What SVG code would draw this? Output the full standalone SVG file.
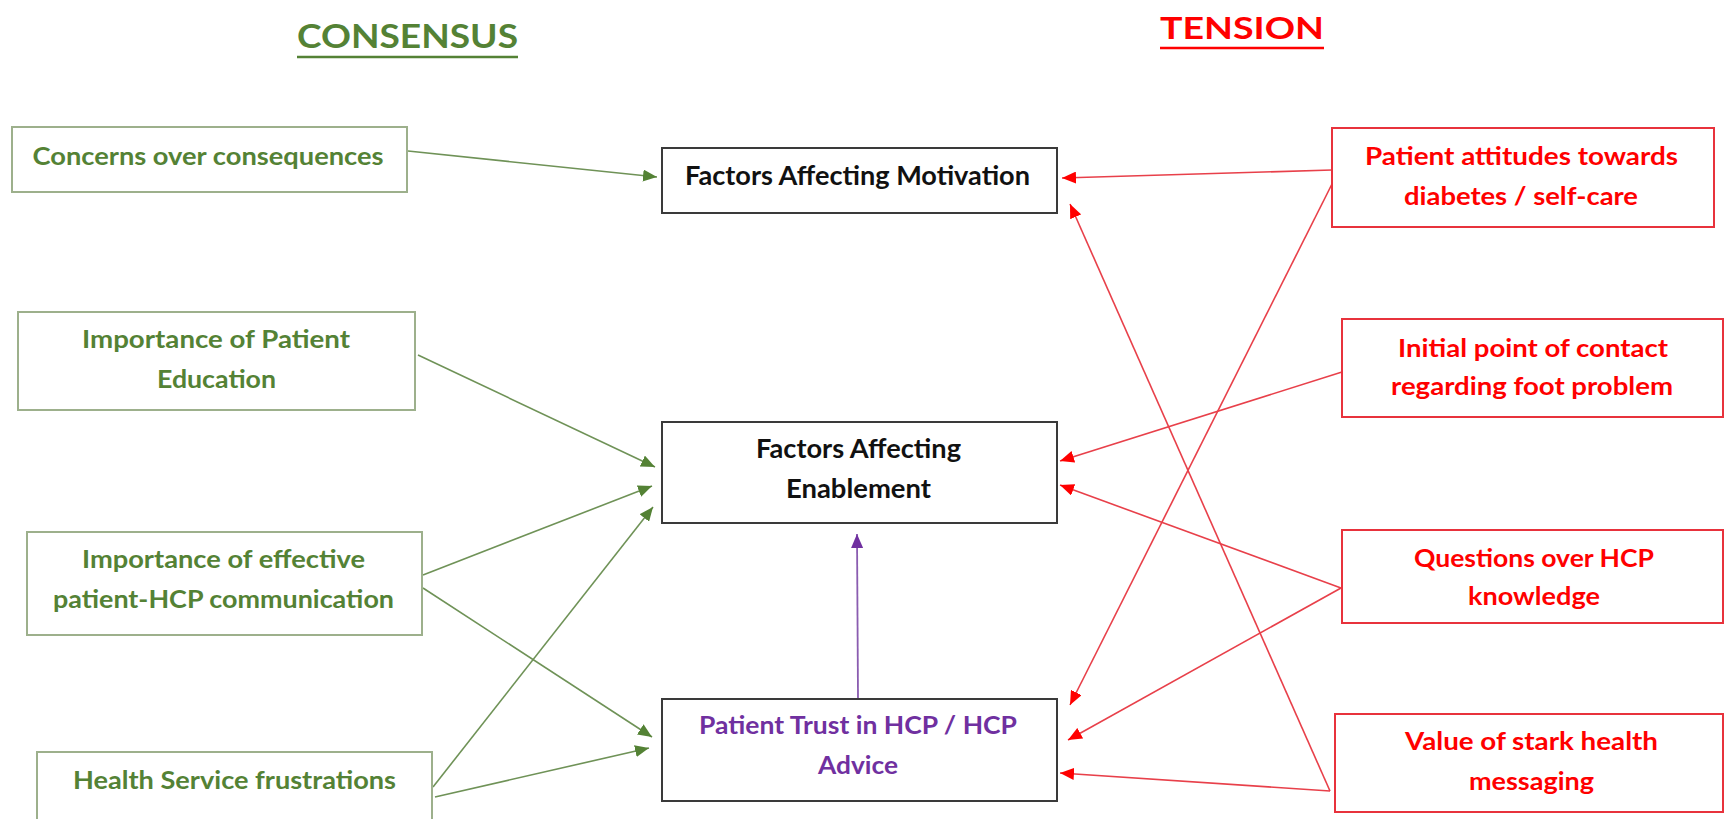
<svg xmlns="http://www.w3.org/2000/svg" width="1726" height="819" viewBox="0 0 1726 819">
<style>
text{font-family:"Lato","Liberation Sans",sans-serif;font-weight:bold;text-anchor:middle}
.g{fill:#548235;font-size:24px}
.r{fill:#FF0000;font-size:24px}
.k{fill:#111111;font-size:26px}
.p{fill:#7030A0;font-size:25px}
.gb{fill:#ffffff;stroke:#9DB08C;stroke-width:2}
.rb{fill:#ffffff;stroke:#E8323C;stroke-width:2}
.kb{fill:#ffffff;stroke:#3a3a3a;stroke-width:2}
.gl{stroke:#6F9257;stroke-width:1.6;fill:none}
.rl{stroke:#E8404A;stroke-width:1.6;fill:none}
.pl{stroke:#8A5CB0;stroke-width:1.8;fill:none}
</style>
<defs>
<marker id="ag" markerUnits="userSpaceOnUse" markerWidth="14" markerHeight="12" refX="14" refY="6" orient="auto"><path d="M0,0 L14,6 L0,12 z" fill="#548235"/></marker>
<marker id="ar" markerUnits="userSpaceOnUse" markerWidth="14" markerHeight="12" refX="14" refY="6" orient="auto"><path d="M0,0 L14,6 L0,12 z" fill="#FF0000"/></marker>
<marker id="ap" markerUnits="userSpaceOnUse" markerWidth="14" markerHeight="12" refX="14" refY="6" orient="auto"><path d="M0,0 L14,6 L0,12 z" fill="#7030A0"/></marker>
</defs>
<rect width="1726" height="819" fill="#ffffff"/>

<g id="title-consensus">
<text x="407.5" y="48" style="fill:#548235;font-size:32px" textLength="221" lengthAdjust="spacingAndGlyphs">CONSENSUS</text>
<line x1="297" y1="57" x2="518" y2="57" stroke="#548235" stroke-width="2.5"/>
</g>
<g id="title-tension">
<text x="1242" y="39" style="fill:#FF0000;font-size:31px" textLength="164" lengthAdjust="spacingAndGlyphs">TENSION</text>
<line x1="1160" y1="48" x2="1324" y2="48" stroke="#FF0000" stroke-width="2.5"/>
</g>

<g id="connectors">
<line class="gl" x1="408" y1="151" x2="657" y2="177" marker-end="url(#ag)"/>
<line class="gl" x1="418" y1="355" x2="655" y2="467" marker-end="url(#ag)"/>
<line class="gl" x1="423" y1="575" x2="652" y2="486" marker-end="url(#ag)"/>
<line class="gl" x1="423" y1="588" x2="652" y2="737" marker-end="url(#ag)"/>
<line class="gl" x1="433" y1="787" x2="653" y2="507" marker-end="url(#ag)"/>
<line class="gl" x1="435" y1="797" x2="649" y2="748" marker-end="url(#ag)"/>
<line class="pl" x1="858" y1="698" x2="857" y2="534" marker-end="url(#ap)"/>
<line class="rl" x1="1332" y1="170" x2="1062" y2="178" marker-end="url(#ar)"/>
<line class="rl" x1="1332" y1="184" x2="1070" y2="705" marker-end="url(#ar)"/>
<line class="rl" x1="1342" y1="372" x2="1060" y2="461" marker-end="url(#ar)"/>
<line class="rl" x1="1341" y1="588" x2="1060" y2="485" marker-end="url(#ar)"/>
<line class="rl" x1="1341" y1="588" x2="1068" y2="740" marker-end="url(#ar)"/>
<line class="rl" x1="1330" y1="791" x2="1060" y2="773" marker-end="url(#ar)"/>
<line class="rl" x1="1330" y1="791" x2="1070" y2="204" marker-end="url(#ar)"/>
</g>

<g id="concerns">
<rect class="gb" x="12" y="127" width="395" height="65"/>
<text class="g" x="208" y="165" textLength="351" lengthAdjust="spacingAndGlyphs">Concerns over consequences</text>
</g>
<g id="patient-education">
<rect class="gb" x="18" y="312" width="397" height="98"/>
<text class="g" x="216" y="348" textLength="268" lengthAdjust="spacingAndGlyphs">Importance of Patient</text>
<text class="g" x="216.5" y="388" textLength="119" lengthAdjust="spacingAndGlyphs">Education</text>
</g>
<g id="communication">
<rect class="gb" x="27" y="532" width="395" height="103"/>
<text class="g" x="223.5" y="568" textLength="283" lengthAdjust="spacingAndGlyphs">Importance of effective</text>
<text class="g" x="223.5" y="608" textLength="341" lengthAdjust="spacingAndGlyphs">patient-HCP communication</text>
</g>
<g id="health-service">
<rect class="gb" x="37" y="752" width="395" height="72"/>
<text class="g" x="234.5" y="789" textLength="323" lengthAdjust="spacingAndGlyphs">Health Service frustrations</text>
</g>

<g id="motivation">
<rect class="kb" x="662" y="148" width="395" height="65"/>
<text class="k" x="857.5" y="185" textLength="345" lengthAdjust="spacingAndGlyphs">Factors Affecting Motivation</text>
</g>
<g id="enablement">
<rect class="kb" x="662" y="422" width="395" height="101"/>
<text class="k" x="858.5" y="458" textLength="205" lengthAdjust="spacingAndGlyphs">Factors Affecting</text>
<text class="k" x="858.5" y="498" textLength="145" lengthAdjust="spacingAndGlyphs">Enablement</text>
</g>
<g id="trust">
<rect class="kb" x="662" y="699" width="395" height="102"/>
<text class="p" x="858" y="734" textLength="318" lengthAdjust="spacingAndGlyphs">Patient Trust in HCP / HCP</text>
<text class="p" x="858" y="774" textLength="80" lengthAdjust="spacingAndGlyphs">Advice</text>
</g>

<g id="attitudes">
<rect class="rb" x="1332" y="128" width="382" height="99"/>
<text class="r" x="1521.5" y="165" textLength="313" lengthAdjust="spacingAndGlyphs">Patient attitudes towards</text>
<text class="r" x="1521" y="205" textLength="234" lengthAdjust="spacingAndGlyphs">diabetes / self-care</text>
</g>
<g id="initial-contact">
<rect class="rb" x="1342" y="319" width="381" height="98"/>
<text class="r" x="1533" y="357" textLength="270" lengthAdjust="spacingAndGlyphs">Initial point of contact</text>
<text class="r" x="1532" y="395" textLength="282" lengthAdjust="spacingAndGlyphs">regarding foot problem</text>
</g>
<g id="hcp-knowledge">
<rect class="rb" x="1342" y="530" width="381" height="93"/>
<text class="r" x="1534" y="567" textLength="240" lengthAdjust="spacingAndGlyphs">Questions over HCP</text>
<text class="r" x="1534" y="605" textLength="132" lengthAdjust="spacingAndGlyphs">knowledge</text>
</g>
<g id="stark-messaging">
<rect class="rb" x="1335" y="714" width="388" height="98"/>
<text class="r" x="1531.5" y="750" textLength="253" lengthAdjust="spacingAndGlyphs">Value of stark health</text>
<text class="r" x="1531.5" y="790" textLength="125" lengthAdjust="spacingAndGlyphs">messaging</text>
</g>
</svg>
